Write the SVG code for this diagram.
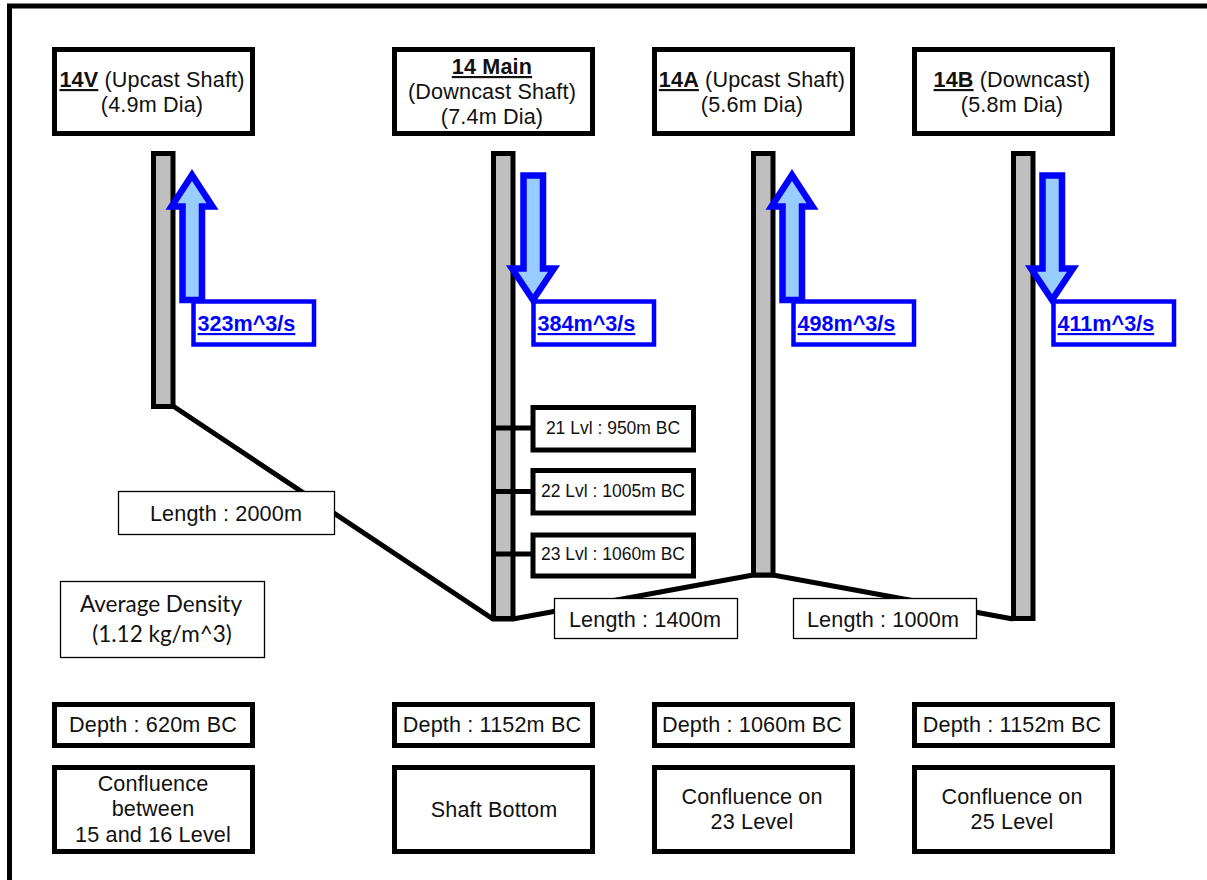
<svg xmlns="http://www.w3.org/2000/svg" width="1207" height="880" viewBox="0 0 1207 880">
<style>
text{font-family:"Liberation Sans",Arial,sans-serif;font-size:21.6px;fill:#111;text-anchor:middle;letter-spacing:.15px}
.c{font-family:Lato,"Open Sans",sans-serif;font-size:22.5px;letter-spacing:0}
.b{fill:#fff;stroke:#000;stroke-width:5}
.t{fill:#fff;stroke:#000;stroke-width:1.3}
.s{fill:#bfbfbf;stroke:#000;stroke-width:5}
.l{fill:none;stroke:#000;stroke-width:5}
.a{fill:#99ccff;stroke:#0000ff;stroke-width:6.5;stroke-miterlimit:10}
.v{fill:#fff;stroke:#0000ff;stroke-width:4.500}
.q{font-weight:bold;fill:#0000ff;text-decoration:underline;text-anchor:start;letter-spacing:0}
.h{font-weight:bold;text-decoration:underline}
.m{font-size:17.5px;letter-spacing:0}
</style>
<rect width="1207" height="880" fill="#fff"/>
<path id="frame" d="M9.500 880V6H1207" fill="none" stroke="#000" stroke-width="5"/>
<g id="connectors">
<path class="l" d="M173 406L493 619H513L753 575H773L1013 619"/>
<path class="l" d="M495 428H532M495 491.500H532M495 554H532"/>
</g>
<g id="shaft-14V"><rect class="s" x="153.500" y="153.500" width="19.500" height="253"/></g>
<g id="shaft-14Main"><rect class="s" x="493.500" y="153.500" width="19.500" height="465"/><path class="l" d="M495 428H512M495 491.500H512M495 554H512"/></g>
<g id="shaft-14A"><rect class="s" x="753.500" y="153.500" width="19.500" height="421.500"/></g>
<g id="shaft-14B"><rect class="s" x="1013.500" y="153.500" width="19.500" height="465"/></g>
<g id="box-14V"><rect class="b" x="54.500" y="49.500" width="198" height="84"/><text x="152" y="87"><tspan class="h">14V</tspan> (Upcast Shaft)</text><text x="152" y="112">(4.9m Dia)</text></g>
<g id="box-14Main"><rect class="b" x="394.500" y="49.500" width="198" height="84"/><text class="h" x="492" y="74">14 Main</text><text x="492" y="99">(Downcast Shaft)</text><text x="492" y="124">(7.4m Dia)</text></g>
<g id="box-14A"><rect class="b" x="654.500" y="49.500" width="198" height="84"/><text x="752" y="87"><tspan class="h">14A</tspan> (Upcast Shaft)</text><text x="752" y="112">(5.6m Dia)</text></g>
<g id="box-14B"><rect class="b" x="914.500" y="49.500" width="198" height="84"/><text x="1012" y="87"><tspan class="h">14B</tspan> (Downcast)</text><text x="1012" y="112">(5.8m Dia)</text></g>
<g id="flow-14V"><path class="a" d="M192 175L212.500 206.500H202V300H182.500V206.500H171.500Z"/><rect class="v" x="193.500" y="301.500" width="120.500" height="43"/><text class="q" x="197.500" y="331">323m^3/s</text></g>
<g id="flow-14Main"><path class="a" d="M523.500 175.500H543V268.500H554L533 300L512 268.500H523.500Z"/><rect class="v" x="533.500" y="301.500" width="120.500" height="43"/><text class="q" x="537.500" y="331">384m^3/s</text></g>
<g id="flow-14A"><path class="a" d="M792 175L812.500 206.500H802V300H782.500V206.500H771.500Z"/><rect class="v" x="793.500" y="301.500" width="120.500" height="43"/><text class="q" x="797.500" y="331">498m^3/s</text></g>
<g id="flow-14B"><path class="a" d="M1042.500 175.500H1062V268.500H1073L1052 300L1031 268.500H1042.500Z"/><rect class="v" x="1053.500" y="301.500" width="120.500" height="43"/><text class="q" x="1057.500" y="331">411m^3/s</text></g>
<g id="lvl-21"><rect class="b" x="533" y="407.500" width="160.500" height="42.500"/><text class="m" x="613" y="434">21 Lvl : 950m BC</text></g>
<g id="lvl-22"><rect class="b" x="533" y="470.500" width="160.500" height="42.500"/><text class="m" x="613" y="497">22 Lvl : 1005m BC</text></g>
<g id="lvl-23"><rect class="b" x="533" y="535" width="160.500" height="41"/><text class="m" x="613" y="560">23 Lvl : 1060m BC</text></g>
<g id="len-2000"><rect class="t" x="118.500" y="491.500" width="216" height="43"/><text x="226" y="520.500">Length :  2000m</text></g>
<g id="len-1400"><rect class="t" x="554.500" y="598.500" width="183" height="40"/><text x="645" y="627">Length :  1400m</text></g>
<g id="len-1000"><rect class="t" x="793.500" y="598.500" width="183" height="40"/><text x="883" y="627">Length :  1000m</text></g>
<g id="density"><rect class="t" x="60.500" y="581.500" width="204" height="76"/><text class="c" x="161" y="612">Average Density</text><text class="c" x="162" y="642">(1.12 kg/m^3)</text></g>
<g id="depth-14V"><rect class="b" x="54.500" y="704.500" width="198" height="41"/><text x="153" y="732">Depth : 620m  BC</text></g>
<g id="depth-14Main"><rect class="b" x="394.500" y="704.500" width="198" height="41"/><text x="492" y="732">Depth : 1152m BC</text></g>
<g id="depth-14A"><rect class="b" x="654.500" y="704.500" width="198" height="41"/><text x="752" y="732">Depth : 1060m BC</text></g>
<g id="depth-14B"><rect class="b" x="914.500" y="704.500" width="198" height="41"/><text x="1012" y="732">Depth : 1152m BC</text></g>
<g id="note-14V"><rect class="b" x="54.500" y="767.500" width="198" height="84"/><text x="153" y="791">Confluence</text><text x="153" y="816">between</text><text x="153" y="842">15 and 16 Level</text></g>
<g id="note-14Main"><rect class="b" x="394.500" y="767.500" width="198" height="84"/><text x="494" y="817">Shaft Bottom</text></g>
<g id="note-14A"><rect class="b" x="654.500" y="767.500" width="198" height="84"/><text x="752" y="804">Confluence on</text><text x="752" y="829">23 Level</text></g>
<g id="note-14B"><rect class="b" x="914.500" y="767.500" width="198" height="84"/><text x="1012" y="804">Confluence on</text><text x="1012" y="829">25 Level</text></g>
</svg>
